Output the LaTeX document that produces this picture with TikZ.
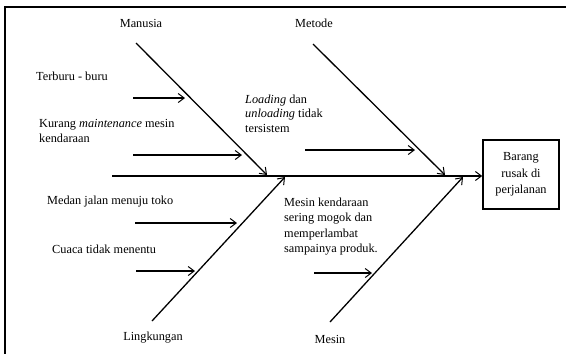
\documentclass[tikz,border=0pt]{standalone}
\usepackage{fontspec}
\setmainfont{Liberation Serif}
\usetikzlibrary{arrows.meta}
\begin{document}
\begin{tikzpicture}[x=1pt,y=-1pt,
  lbl/.style={font=\fontsize{12.3}{15}\selectfont, inner sep=0pt},
  bone/.style={line width=1.3pt, -{Straight Barb[length=6pt,width=9pt,line width=1pt]}},
  sub/.style={line width=1.1pt, -{Straight Barb[length=6pt,width=9pt,line width=1pt]}},
  frame/.style={line width=2.2pt}]
\useasboundingbox (0,0) rectangle (566,354);
\draw[frame] (5,354) -- (5,7) -- (566,7);

% effect box
\node[draw, line width=1.6pt, minimum width=76pt, minimum height=69pt, inner sep=0pt,
      align=center, font=\fontsize{12.3}{16.5}\selectfont] (effect) at (521,174.5)
      {Barang\\rusak di\\perjalanan};

% spine
\coordinate (spineS) at (112,176);
\draw[bone] (spineS) -- (spineS -| effect.west);

% bones
\coordinate (manT) at (136,43);  \coordinate (manH) at (267,175);
\coordinate (metT) at (313,44);  \coordinate (metH) at (445,175);
\coordinate (linT) at (152,321); \coordinate (linH) at (285,177);
\coordinate (mesT) at (330,322); \coordinate (mesH) at (463,177);
\draw[bone] (manT) -- (manH);
\draw[bone] (metT) -- (metH);
\draw[bone] (linT) -- (linH);
\draw[bone] (mesT) -- (mesH);

% category labels
\node[lbl] (lman) at (141,23) {Manusia};
\node[lbl] (lmet) at (314,23) {Metode};
\node[lbl] (llin) at (153,338) {Lingkungan};
\node[lbl] (lmes) at (330,339) {Mesin};

% sub causes
\coordinate (a1S) at (133,98);  \coordinate (a1E) at (185,98);
\coordinate (a2S) at (133,155); \coordinate (a2E) at (242,155);
\coordinate (a3S) at (305,150); \coordinate (a3E) at (415,150);
\coordinate (a4S) at (135,223); \coordinate (a4E) at (237,223);
\coordinate (a5S) at (136,271); \coordinate (a5E) at (195,271);
\coordinate (a6S) at (314,273); \coordinate (a6E) at (372,273);
\draw[sub] (a1S) -- (a1E);
\draw[sub] (a2S) -- (a2E);
\draw[sub] (a3S) -- (a3E);
\draw[sub] (a4S) -- (a4E);
\draw[sub] (a5S) -- (a5E);
\draw[sub] (a6S) -- (a6E);

\node[lbl, anchor=west] (t1) at (36,76) {Terburu - buru};
\node[lbl, anchor=west, align=left] (t2) at (39,130.5) {Kurang \textit{maintenance} mesin\\kendaraan};
\node[lbl, anchor=west, align=left, font=\fontsize{12.3}{14.5}\selectfont] (t3) at (245,113.5) {\textit{Loading} dan\\\textit{unloading} tidak\\tersistem};
\node[lbl, anchor=west] (t4) at (47,202) {Medan jalan menuju toko};
\node[lbl, anchor=west] (t5) at (52,249) {Cuaca tidak menentu};
\node[lbl, anchor=west, align=left, font=\fontsize{12.3}{15.5}\selectfont] (t6) at (284,226.5) {Mesin kendaraan\\sering mogok dan\\memperlambat\\sampainya produk.};
\end{tikzpicture}
\end{document}
